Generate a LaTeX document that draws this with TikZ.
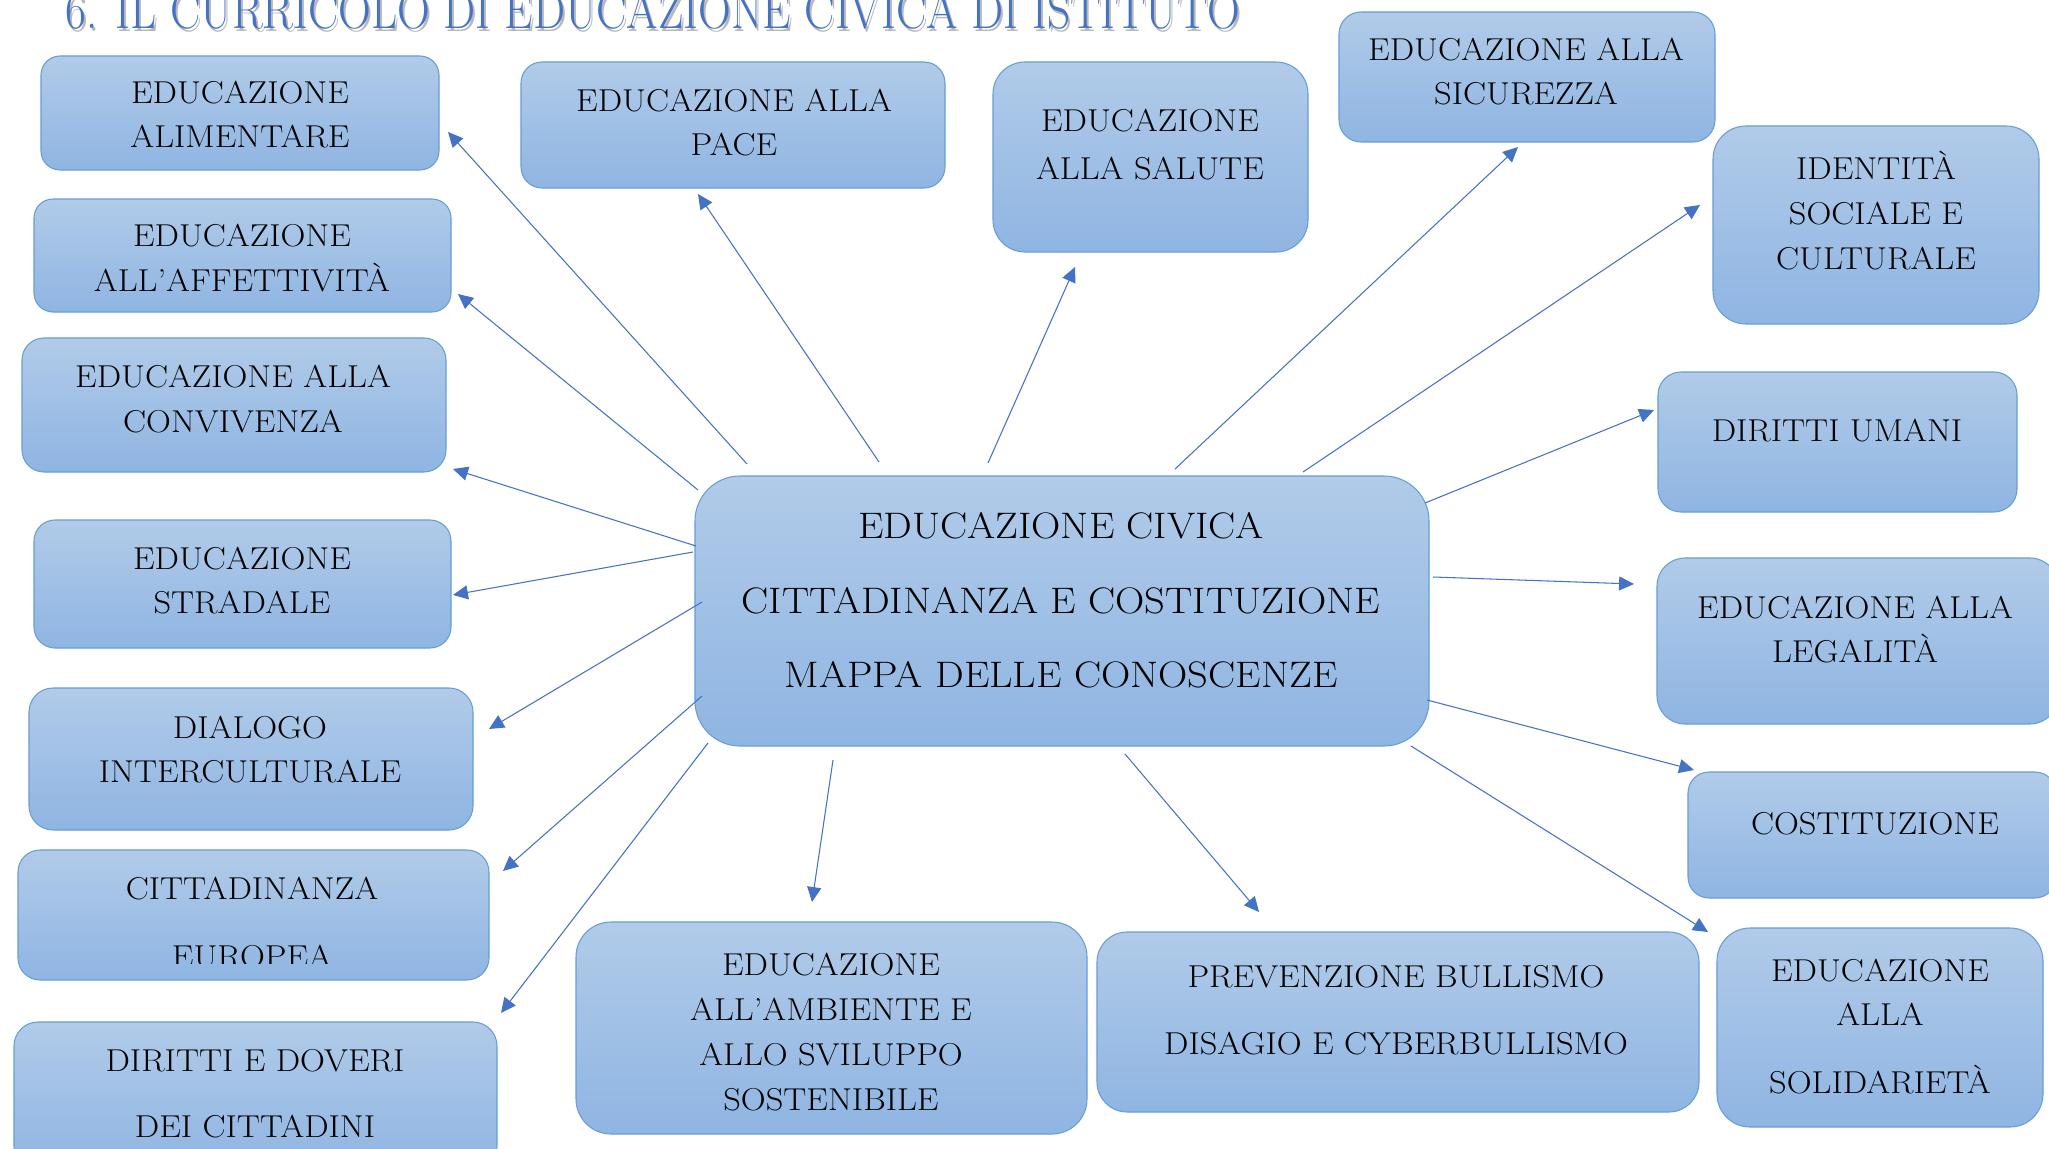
\documentclass[tikz,border=0pt]{standalone}
\usepackage{fontspec}
\usetikzlibrary{arrows.meta}
\definecolor{boxtop}{RGB}{177,203,233}
\definecolor{boxbot}{RGB}{143,181,226}
\definecolor{boxline}{RGB}{102,158,215}
\definecolor{arrowcol}{RGB}{68,114,196}
\definecolor{titlecol}{RGB}{68,114,196}
\tikzset{
  rbox/.style={draw=boxline, line width=0.6pt, top color=boxtop, bottom color=boxbot,
    shape=rectangle, inner sep=0pt, outer sep=0pt},
  boxtext/.style={anchor=base, inner sep=0pt, font=\fontsize{18}{22}\selectfont, text=black},
  maintext/.style={anchor=base, inner sep=0pt, font=\fontsize{21}{25}\selectfont, text=black},
  titletext/.style={anchor=base west, inner sep=0pt, font=\fontsize{24}{28}\selectfont},
  link/.style={draw=arrowcol, line width=0.6pt, -{Triangle[length=8.5pt,width=8pt]}},
}
% name x1 y1 x2 y2 radius (all in px)
\newcommand\mkbox[6]{%
  \node[rbox, rounded corners={#6*0.02cm}, minimum width={(#4-#2)*0.02cm},
        minimum height={(#5-#3)*0.02cm}] (#1) at ({(#2+#4)/2},{(#3+#5)/2}) {};}
\newcommand\tl[4]{\node[boxtext] (#1) at (#2,#3) {\scalebox{1.09}[1]{#4}};}
\newcommand\ml[4]{\node[maintext] (#1) at (#2,#3) {\scalebox{1.10}[1]{#4}};}
\newcommand\ttitle{6. IL CURRICOLO DI EDUCAZIONE CIVICA DI ISTITUTO}
\begin{document}
\begin{tikzpicture}[x=0.02cm, y=-0.02cm]
\fill[white] (0,0) rectangle (2049,1149);
\useasboundingbox (0,0) rectangle (2049,1149);

% title
\node[titletext, text=black!28] (titleshadow) at (67,32) {\scalebox{1.075}[1.25]{\ttitle}};
\node[titletext, text=titlecol] (title) at (65,29) {\scalebox{1.075}[1.25]{\ttitle}};

% boxes
\mkbox{ali}{41}{56}{439}{170}{19}
\mkbox{aff}{34}{199}{451}{312}{19}
\mkbox{conv}{22}{338}{446}{472}{22}
\mkbox{strad}{34}{520}{451}{648}{21}
\mkbox{dial}{29}{688}{473}{830}{24}
\mkbox{citt}{18}{850}{489}{980}{22}
\mkbox{dir}{14}{1022}{497}{1170}{24}
\mkbox{pace}{521}{62}{945}{188}{21}
\mkbox{sal}{993}{62}{1308}{252}{32}
\mkbox{sic}{1339}{12}{1715}{142}{22}
\mkbox{iden}{1713}{126}{2039}{324}{33}
\mkbox{dum}{1658}{372}{2017}{512}{23}
\mkbox{leg}{1657}{558}{2058}{724}{28}
\mkbox{cost}{1688}{772}{2056}{898}{21}
\mkbox{sol}{1717}{928}{2043}{1127}{33}
\mkbox{prev}{1097}{932}{1699}{1112}{30}
\mkbox{amb}{576}{922}{1087}{1134}{35}
\mkbox{main}{695}{476}{1429}{746}{45}

% texts
\tl{aliA}{240}{104}{EDUCAZIONE}
\tl{aliB}{240}{148}{ALIMENTARE}
\tl{affA}{242}{246}{EDUCAZIONE}
\tl{affB}{242}{291}{ALL’AFFETTIVITÀ}
\tl{convA}{233}{387}{EDUCAZIONE ALLA}
\tl{convB}{233}{432}{CONVIVENZA}
\tl{stradA}{242}{569}{EDUCAZIONE}
\tl{stradB}{242}{613}{STRADALE}
\tl{dialA}{250}{738}{DIALOGO}
\tl{dialB}{250}{782}{INTERCULTURALE}
\tl{cittA}{252}{899}{CITTADINANZA}
\begin{scope}
  \clip (0,850) rectangle (2049,963);
  \tl{cittB}{252}{967}{EUROPEA}
\end{scope}
\tl{dirA}{255}{1071}{DIRITTI E DOVERI}
\tl{dirB}{255}{1137}{DEI CITTADINI}
\tl{paceA}{734}{112}{EDUCAZIONE ALLA}
\tl{paceB}{734}{155}{PACE}
\tl{salA}{1150}{132}{EDUCAZIONE}
\tl{salB}{1150}{179}{ALLA SALUTE}
\tl{sicA}{1526}{61}{EDUCAZIONE ALLA}
\tl{sicB}{1526}{105}{SICUREZZA}
\tl{idenA}{1876}{179}{IDENTITÀ}
\tl{idenB}{1876}{224}{SOCIALE E}
\tl{idenC}{1876}{269}{CULTURALE}
\tl{dumA}{1837}{441}{DIRITTI UMANI}
\tl{legA}{1855}{618}{EDUCAZIONE ALLA}
\tl{legB}{1855}{662}{LEGALITÀ}
\tl{costA}{1875}{834}{COSTITUZIONE}
\tl{solA}{1880}{981}{EDUCAZIONE}
\tl{solB}{1880}{1025}{ALLA}
\tl{solC}{1880}{1093}{SOLIDARIETÀ}
\tl{prevA}{1396}{987}{PREVENZIONE BULLISMO}
\tl{prevB}{1396}{1054}{DISAGIO E CYBERBULLISMO}
\tl{ambA}{831}{975}{EDUCAZIONE}
\tl{ambB}{831}{1020}{ALL’AMBIENTE E}
\tl{ambC}{831}{1065}{ALLO SVILUPPO}
\tl{ambD}{831}{1110}{SOSTENIBILE}
\ml{mainA}{1061}{538}{EDUCAZIONE CIVICA}
\ml{mainB}{1061}{613}{CITTADINANZA E COSTITUZIONE}
\ml{mainC}{1061}{687}{MAPPA DELLE CONOSCENZE}

% connector end points
\coordinate (sAli) at (747,464);   \coordinate (tAli) at (448,132);
\coordinate (sAff) at (698,490);   \coordinate (tAff) at (458,294);
\coordinate (sConv) at (696,546);  \coordinate (tConv) at (453,469);
\coordinate (sStrad) at (693,552); \coordinate (tStrad) at (453,595);
\coordinate (sDial) at (702,602);  \coordinate (tDial) at (489,729);
\coordinate (sCitt) at (702,696);  \coordinate (tCitt) at (503,871);
\coordinate (sDir) at (708,743);   \coordinate (tDir) at (501,1013);
\coordinate (sPace) at (879,462);  \coordinate (tPace) at (698,194);
\coordinate (sSal) at (988,463);   \coordinate (tSal) at (1075,267);
\coordinate (sSic) at (1175,469);  \coordinate (tSic) at (1518,147);
\coordinate (sIden) at (1303,472); \coordinate (tIden) at (1700,205);
\coordinate (sDum) at (1425,503);  \coordinate (tDum) at (1654,410);
\coordinate (sLeg) at (1433,577);  \coordinate (tLeg) at (1634,584);
\coordinate (sCost) at (1427,700); \coordinate (tCost) at (1694,770);
\coordinate (sSol) at (1411,746);  \coordinate (tSol) at (1708,932);
\coordinate (sPrev) at (1125,754); \coordinate (tPrev) at (1259,912);
\coordinate (sAmb) at (833,760);   \coordinate (tAmb) at (812,902);

\foreach \n in {Ali,Aff,Conv,Strad,Dial,Citt,Dir,Pace,Sal,Sic,Iden,Dum,Leg,Cost,Sol,Prev,Amb}
  \draw[link] (s\n) -- (t\n);
\end{tikzpicture}
\end{document}
